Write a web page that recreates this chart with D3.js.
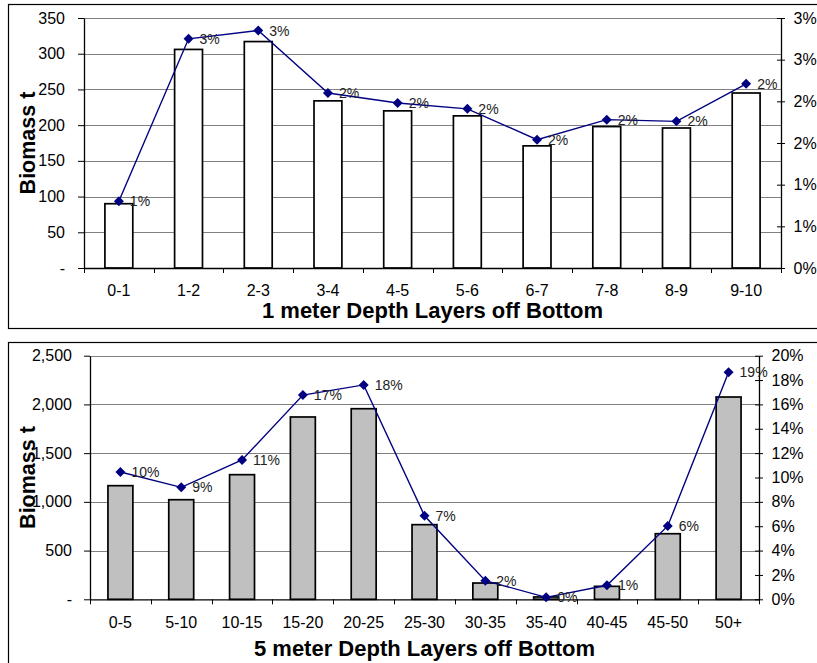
<!DOCTYPE html>
<html>
<head>
<meta charset="utf-8">
<script src="https://cdn.jsdelivr.net/npm/d3@7"></script>
<style>
  html, body { margin: 0; padding: 0; background: #fff; }
  svg { display: block; font-family: "Liberation Sans", Arial, sans-serif; }
</style>
</head>
<body>
<svg id="chart" width="817" height="663"></svg>
<script>
// ---- 1 m layers ----
const oneMeterLayers = ["0-1", "1-2", "2-3", "3-4", "4-5", "5-6", "6-7", "7-8", "8-9", "9-10"];
const oneMeterBiomass = [90, 306, 317, 234, 220, 213, 171, 198, 196, 245];
const oneMeterShare = [0.0080, 0.0275, 0.0285, 0.0210, 0.0198, 0.0191, 0.0154, 0.0178, 0.0176, 0.0221];
const oneMeterLeftTicks = [0, 50, 100, 150, 200, 250, 300, 350];
const oneMeterLeftLabels = ["-", "50", "100", "150", "200", "250", "300", "350"];
const oneMeterRightTicks = [0, 0.005, 0.010, 0.015, 0.020, 0.025, 0.030];
const oneMeterRightLabels = ["0%", "1%", "1%", "2%", "2%", "3%", "3%"];

// ---- 5 m layers ----
const fiveMeterLayers = ["0-5", "5-10", "10-15", "15-20", "20-25", "25-30", "30-35", "35-40", "40-45", "45-50", "50+"];
const fiveMeterBiomass = [1166, 1022, 1279, 1871, 1956, 766, 167, 24, 133, 673, 2076];
const fiveMeterShare = [0.1045, 0.0919, 0.1144, 0.1677, 0.1760, 0.0686, 0.0153, 0.0016, 0.0115, 0.0602, 0.1864];
const fiveMeterLeftTicks = [0, 500, 1000, 1500, 2000, 2500];
const fiveMeterLeftLabels = ["-", "500", "1,000", "1,500", "2,000", "2,500"];
const fiveMeterRightTicks = [0, 0.02, 0.04, 0.06, 0.08, 0.10, 0.12, 0.14, 0.16, 0.18, 0.20];
const fiveMeterRightLabels = ["0%", "2%", "4%", "6%", "8%", "10%", "12%", "14%", "16%", "18%", "20%"];

const svg = d3.select("#chart");
const pct = d3.format(".0%");

function drawPanel(p) {
  const g = svg.append("g");

  // outer chart frame (runs past the page edge on the open sides)
  g.append("rect")
    .attr("x", p.frame[0]).attr("y", p.frame[1])
    .attr("width", p.frame[2]).attr("height", p.frame[3])
    .attr("fill", "#fff").attr("stroke", "#000").attr("stroke-width", 1.2);

  const x = d3.scaleBand().domain(p.categories).range([p.left, p.right]);
  const y = d3.scaleLinear().domain([0, p.leftTicks[p.leftTicks.length - 1]]).range([p.bottom, p.top]);
  const y2 = d3.scaleLinear().domain([0, p.rightTicks[p.rightTicks.length - 1]]).range([p.bottom, p.top]);
  const bw = x.bandwidth();
  const barW = bw * p.barFrac;

  // horizontal gridlines
  g.append("g").selectAll("line")
    .data(p.leftTicks.filter(t => t > 0))
    .join("line")
    .attr("x1", p.left).attr("x2", p.right)
    .attr("y1", d => Math.round(y(d)) + 0.5).attr("y2", d => Math.round(y(d)) + 0.5)
    .attr("stroke", "#808080").attr("stroke-width", 1);

  // bars
  g.append("g").selectAll("rect")
    .data(p.categories.map((c, i) => ({ c, v: p.biomass[i] })))
    .join("rect")
    .attr("x", d => x(d.c) + (bw - barW) / 2)
    .attr("y", d => y(d.v))
    .attr("width", barW)
    .attr("height", d => y(0) - y(d.v))
    .attr("fill", p.barFill)
    .attr("stroke", "#000").attr("stroke-width", 1.7);

  // left value axis
  const la = g.append("g").attr("transform", `translate(${p.left},0)`)
    .call(d3.axisLeft(y).tickValues(p.leftTicks)
      .tickFormat((d, i) => p.leftLabels[i]).tickSize(6).tickSizeOuter(0).tickPadding(p.leftPad));
  la.select(".domain").attr("stroke", "#000").attr("stroke-width", 1.3);
  la.selectAll("line").attr("stroke", "#000");
  la.selectAll("text").attr("font-size", 16).attr("fill", "#000")
    .attr("font-family", "Liberation Sans, Arial, sans-serif");

  // right share axis, ticks crossing the line
  const ra = g.append("g").attr("transform", `translate(${p.right},0)`)
    .call(d3.axisRight(y2).tickValues(p.rightTicks)
      .tickFormat((d, i) => p.rightLabels[i]).tickSize(4).tickSizeOuter(0).tickPadding(8.5));
  ra.select(".domain").attr("stroke", "#000").attr("stroke-width", 1.3);
  ra.selectAll(".tick line").attr("x1", -4).attr("stroke", "#000");
  ra.selectAll("text").attr("font-size", 16).attr("fill", "#000")
    .attr("font-family", "Liberation Sans, Arial, sans-serif");

  // category axis
  const ca = g.append("g").attr("transform", `translate(0,${p.bottom})`)
    .call(d3.axisBottom(x).tickSize(0).tickSizeOuter(0).tickPadding(17));
  ca.select(".domain").attr("stroke", "#000").attr("stroke-width", 1.3);
  ca.selectAll("text").attr("font-size", 16).attr("fill", "#000")
    .attr("font-family", "Liberation Sans, Arial, sans-serif");
  const bounds = p.categories.map(c => x(c)).concat([x.range()[1]]);
  ca.append("g").selectAll("line")
    .data(bounds)
    .join("line")
    .attr("x1", d => Math.round(d) + 0.5).attr("x2", d => Math.round(d) + 0.5)
    .attr("y1", 0).attr("y2", 5)
    .attr("stroke", "#000");

  // share line with diamond markers
  const pts = p.categories.map((c, i) => ({ c, v: p.share[i], px: x(c) + bw / 2, py: y2(p.share[i]) }));
  g.append("path")
    .datum(pts)
    .attr("d", d3.line().x(d => d.px).y(d => d.py))
    .attr("fill", "none").attr("stroke", "#000080").attr("stroke-width", 1.4);
  g.append("g").selectAll("path")
    .data(pts)
    .join("path")
    .attr("d", d3.symbol(d3.symbolSquare, 50))
    .attr("transform", d => `translate(${d.px},${d.py}) rotate(45)`)
    .attr("fill", "#000080");
  g.append("g").selectAll("text")
    .data(pts)
    .join("text")
    .attr("x", d => d.px + 11).attr("y", d => d.py + 5)
    .attr("font-size", 14).attr("fill", "#222")
    .text(d => pct(d.v));

  // axis titles
  g.append("text")
    .attr("x", (p.left + p.right) / 2).attr("y", p.xTitleY)
    .attr("text-anchor", "middle").attr("font-size", 22).attr("font-weight", "bold")
    .text(p.xTitle);
  g.append("text")
    .attr("transform", `translate(34.5,${(p.top + p.bottom) / 2}) rotate(-90)`)
    .attr("text-anchor", "middle").attr("font-size", 21.5).attr("font-weight", "bold")
    .text("Biomass t");
}

drawPanel({
  frame: [8.5, 4.5, 830, 324],
  left: 84, right: 781, top: 18, bottom: 268,
  categories: oneMeterLayers, biomass: oneMeterBiomass, share: oneMeterShare,
  leftTicks: oneMeterLeftTicks, leftLabels: oneMeterLeftLabels,
  rightTicks: oneMeterRightTicks, rightLabels: oneMeterRightLabels,
  barFrac: 0.40, barFill: "#fff", leftPad: 13,
  xTitle: "1 meter Depth Layers off Bottom", xTitleY: 317.5
});

drawPanel({
  frame: [8.5, 342.5, 830, 340],
  left: 90, right: 759, top: 355.7, bottom: 599.3,
  categories: fiveMeterLayers, biomass: fiveMeterBiomass, share: fiveMeterShare,
  leftTicks: fiveMeterLeftTicks, leftLabels: fiveMeterLeftLabels,
  rightTicks: fiveMeterRightTicks, rightLabels: fiveMeterRightLabels,
  barFrac: 0.41, barFill: "#c0c0c0", leftPad: 12,
  xTitle: "5 meter Depth Layers off Bottom", xTitleY: 655.5
});
</script>
</body>
</html>
